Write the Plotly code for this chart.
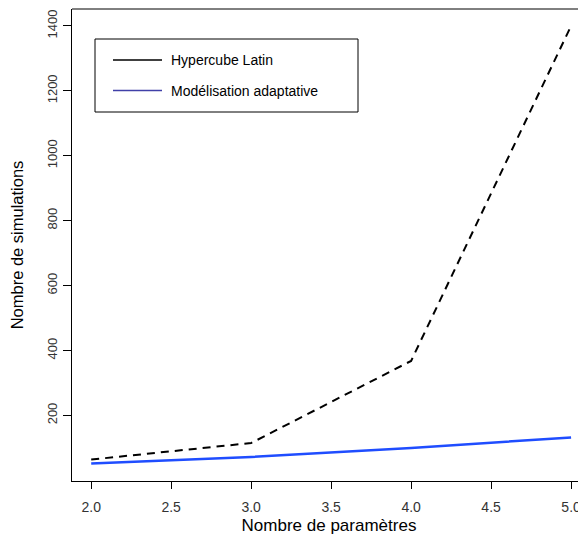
import plotly.graph_objects as go

# Data
nb_parametres = [2, 3, 4, 5]
hypercube_latin = [64, 115, 368, 1400]
modelisation_adaptative = [52, 72, 100, 132]

x_ticks = [2.0, 2.5, 3.0, 3.5, 4.0, 4.5, 5.0]
y_ticks = [200, 400, 600, 800, 1000, 1200, 1400]

legend_labels = ["Hypercube Latin", "Modélisation adaptative"]
legend_colors = ["#000000", "#4040a8"]

FONT = "Liberation Sans, Arial, sans-serif"

# the page body has an 8px margin, so the figure is drawn 8px smaller
OFF = 8
W, H = 586 - OFF, 537 - OFF

fig = go.Figure()
fig.add_trace(go.Scatter(
    x=nb_parametres, y=hypercube_latin, mode="lines",
    line=dict(color="#000000", width=2, dash="8px,6px"),
    name=legend_labels[0], showlegend=False,
))
fig.add_trace(go.Scatter(
    x=nb_parametres, y=modelisation_adaptative, mode="lines",
    line=dict(color="#1f4dff", width=2.5),
    name=legend_labels[1], showlegend=False,
))

fig.update_layout(
    width=W, height=H,
    margin=dict(l=72 - OFF, r=0, t=9 - OFF, b=537 - 481, autoexpand=False),
    paper_bgcolor="white", plot_bgcolor="white",
    font=dict(family=FONT, color="#000000"),
    xaxis=dict(
        automargin=False,
        range=[1.88, 2 + (586 - 92) / 159.7],
        tickvals=x_ticks, ticktext=[f"{v:.1f}" for v in x_ticks],
        ticks="outside", ticklen=7, tickcolor="#000", tickwidth=1,
        ticklabelstandoff=6, ticklabeloverflow="allow",
        showline=True, linecolor="#000", linewidth=1,
        showgrid=False, zeroline=False,
        tickfont=dict(size=14, color="#333333"),
        title=dict(text="Nombre de paramètres", font=dict(size=17, color="#000"), standoff=5),
    ),
    yaxis=dict(
        automargin=False,
        range=[-2, 1452],
        tickvals=y_ticks, tickangle=-90,
        ticks="outside", ticklen=8, tickcolor="#000", tickwidth=1,
        ticklabelstandoff=1, ticklabeloverflow="allow",
        showline=True, linecolor="#000", linewidth=1,
        showgrid=False, zeroline=False,
        tickfont=dict(size=13, color="#333333"),
        title=dict(text="Nombre de simulations", font=dict(size=16.5, color="#000"), standoff=18),
    ),
)

# top border of the box (right side is cropped in the reference)
fig.add_shape(type="line", xref="paper", yref="paper", x0=0, x1=1, y0=1, y1=1,
              line=dict(color="#000", width=1))

# manual legend box (legend keys drawn as solid lines, as in the reference)
def px_x(p):
    return (p - 72) / (586 - 72)

def px_y(p):
    return (481 - p) / (481 - 9)

fig.add_shape(type="rect", xref="paper", yref="paper",
              x0=px_x(95), x1=px_x(358), y0=px_y(112), y1=px_y(39),
              line=dict(color="#000", width=1), fillcolor="white")
for i, (lab, col) in enumerate(zip(legend_labels, legend_colors)):
    yy = 60 + i * 30.5
    fig.add_shape(type="line", xref="paper", yref="paper",
                  x0=px_x(113), x1=px_x(162), y0=px_y(yy), y1=px_y(yy),
                  line=dict(color=col, width=1.5))
    fig.add_annotation(xref="paper", yref="paper", x=px_x(169), y=px_y(yy),
                       text=lab, showarrow=False, xanchor="left", yanchor="middle",
                       font=dict(size=14, color="#000", family=FONT))

fig.write_html("out.html")
